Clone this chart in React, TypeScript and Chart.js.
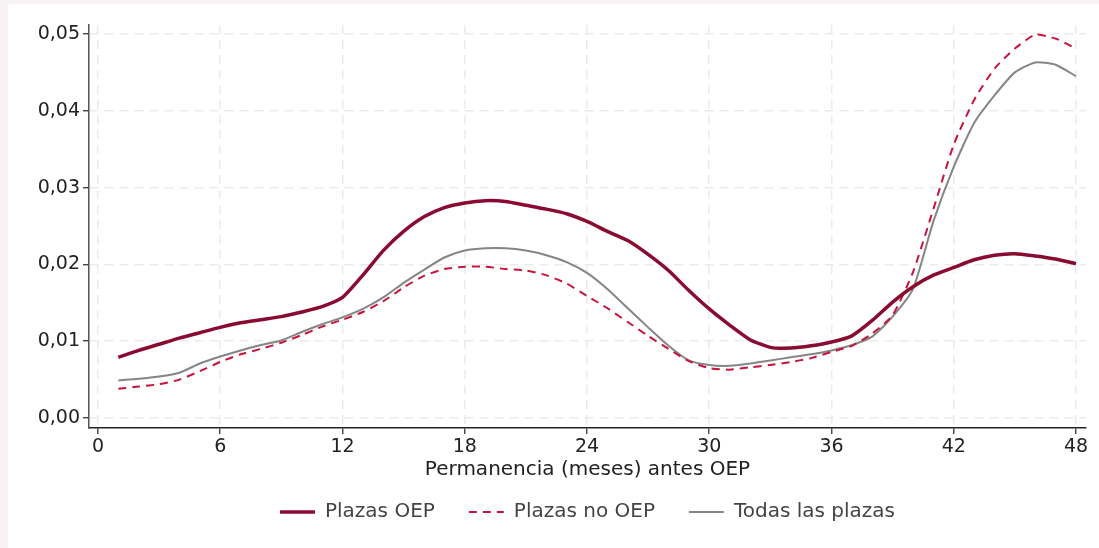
import React, { useEffect, useRef } from 'react';
import { Chart, registerables } from 'chart.js';

Chart.register(...registerables);

const months = [
  1, 2, 3, 4, 5, 6, 7, 8, 9, 10, 11, 12, 13, 14, 15, 16, 17, 18, 19, 20, 21, 22, 23, 24,
  25, 26, 27, 28, 29, 30, 31, 32, 33, 34, 35, 36, 37, 38, 39, 40, 41, 42, 43, 44, 45, 46, 47, 48,
];

const plazasOEP = [
  0.0079, 0.0088, 0.0096, 0.0104, 0.0111, 0.0118, 0.0124, 0.0128, 0.0132, 0.0138, 0.0145, 0.0157,
  0.0186, 0.0218, 0.0243, 0.0262, 0.0274, 0.028, 0.0283, 0.0282, 0.0277, 0.0272, 0.0266, 0.0256,
  0.0243, 0.0231, 0.0213, 0.0192, 0.0166, 0.0142, 0.0121, 0.0102, 0.0092, 0.0091, 0.0094, 0.0099,
  0.0107, 0.0127, 0.0151, 0.0171, 0.0186, 0.0196, 0.0206, 0.0212, 0.0214, 0.0211, 0.0207, 0.0201,
];

const plazasNoOEP = [
  0.0038, 0.0041, 0.0044, 0.005, 0.0061, 0.0073, 0.0083, 0.009, 0.0098, 0.0108, 0.0119, 0.0128,
  0.0138, 0.0152, 0.017, 0.0185, 0.0194, 0.0197, 0.0197, 0.0194, 0.0192, 0.0186, 0.0175, 0.0159,
  0.0143, 0.0125, 0.0107, 0.009, 0.0074, 0.0065, 0.0063, 0.0066, 0.0069, 0.0073, 0.0078, 0.0086,
  0.0094, 0.011, 0.0134, 0.019, 0.0272, 0.0356, 0.0414, 0.0455, 0.0481, 0.0499, 0.0494, 0.0481,
];

const todasPlazas = [
  0.0049, 0.0051, 0.0054, 0.0059, 0.0071, 0.008, 0.0088, 0.0095, 0.0101, 0.0112, 0.0122, 0.0131,
  0.0142, 0.0157, 0.0176, 0.0193, 0.0209, 0.0218, 0.0221, 0.0221, 0.0218, 0.0212, 0.0203, 0.0189,
  0.0168, 0.0143, 0.0118, 0.0094, 0.0075, 0.0069, 0.0068, 0.0071, 0.0075, 0.0079, 0.0083, 0.0088,
  0.0095, 0.0106, 0.0132, 0.0168, 0.0256, 0.0327, 0.0384, 0.042, 0.045, 0.0463, 0.046, 0.0445,
];

const seriesLabels = ['Plazas OEP', 'Plazas no OEP', 'Todas las plazas'];
const xTicks = [0, 6, 12, 18, 24, 30, 36, 42, 48];
const yTicks = [0, 0.01, 0.02, 0.03, 0.04, 0.05];
const yTickLabels = ['0,00', '0,01', '0,02', '0,03', '0,04', '0,05'];
const xTitle = 'Permanencia (meses) antes OEP';

const FONT = "'DejaVu Sans', sans-serif";
const LEGEND_PAD = 34;
const LEGEND_FONT = 20;
const LEGEND_ROW_Y = 508;

const toPoints = (vals: number[]) => months.map((m, i) => ({ x: m, y: vals[i] }));

const legendPlace = {
  id: 'legendPlace',
  afterLayout(chart: any) {
    const lg = chart.legend;
    if (!lg) return;
    const h = LEGEND_PAD * 2 + LEGEND_FONT + 6;
    lg.top = LEGEND_ROW_Y - LEGEND_PAD - LEGEND_FONT / 2;
    lg.height = h;
    lg.bottom = lg.top + h;
  },
};

export default function App() {
  const ref = useRef<HTMLCanvasElement | null>(null);

  useEffect(() => {
    document.body.style.background = '#f7f3f2';
    const canvas = ref.current;
    if (!canvas) return;
    const defaultLabels = Chart.defaults.plugins.legend.labels.generateLabels;
    const chart = new Chart(canvas, {
      type: 'line',
      data: {
        datasets: [
          {
            label: seriesLabels[0],
            data: toPoints(plazasOEP),
            borderColor: '#8a0b31',
            backgroundColor: '#8a0b31',
            borderWidth: 3.5,
            pointRadius: 0,
            tension: 0.2,
          },
          {
            label: seriesLabels[1],
            data: toPoints(plazasNoOEP),
            borderColor: '#c8133d',
            backgroundColor: '#c8133d',
            borderWidth: 2,
            borderDash: [8, 6],
            pointRadius: 0,
            tension: 0.2,
          },
          {
            label: seriesLabels[2],
            data: toPoints(todasPlazas),
            borderColor: '#858585',
            backgroundColor: '#858585',
            borderWidth: 2,
            pointRadius: 0,
            tension: 0.2,
          },
        ],
      },
      options: {
        animation: false,
        responsive: false,
        maintainAspectRatio: false,
        layout: { padding: { top: 21, right: 13, left: 0, bottom: 0 } },
        plugins: {
          tooltip: { enabled: false },
          legend: {
            position: 'bottom',
            fullSize: false,
            maxHeight: 40,
            labels: {
              usePointStyle: true,
              pointStyle: 'line',
              pointStyleWidth: 35,
              padding: LEGEND_PAD,
              color: '#444444',
              font: { family: FONT, size: LEGEND_FONT },
              generateLabels: (c: any) => {
                const items = defaultLabels(c);
                items.forEach((it: any) => {
                  const ds: any = c.data.datasets[it.datasetIndex];
                  it.lineDash = ds.borderDash || [];
                  it.lineWidth = ds.borderWidth;
                  it.strokeStyle = ds.borderColor;
                });
                return items;
              },
            },
          },
        },
        scales: {
          x: {
            type: 'linear',
            min: -0.44,
            max: 48.49,
            afterBuildTicks: (s: any) => {
              s.ticks = xTicks.map((v) => ({ value: v }));
            },
            afterFit: (s: any) => {
              s.height = 80;
            },
            ticks: {
              color: '#222222',
              font: { family: FONT, size: 19 },
              padding: 2,
              maxRotation: 0,
              autoSkip: false,
            },
            grid: {
              color: '#ebebeb',
              lineWidth: 1.5,
              tickColor: '#333333',
              tickLength: 6,
              tickWidth: 1.3,
            },
            border: { color: '#222222', width: 1.5, dash: [9, 6] },
            title: {
              display: true,
              text: xTitle,
              color: '#222222',
              font: { family: FONT, size: 20 },
              padding: { top: 2, bottom: 26 },
            },
          },
          y: {
            type: 'linear',
            min: -0.0013,
            max: 0.05117,
            afterBuildTicks: (s: any) => {
              s.ticks = yTicks.map((v) => ({ value: v }));
            },
            afterFit: (s: any) => {
              s.width = 81;
            },
            ticks: {
              color: '#222222',
              font: { family: FONT, size: 19 },
              padding: 3,
              callback: (v: any) => {
                const i = yTicks.findIndex((t) => Math.abs(t - Number(v)) < 1e-9);
                return i >= 0 ? yTickLabels[i] : '';
              },
            },
            grid: {
              color: '#ebebeb',
              lineWidth: 1.5,
              tickColor: '#333333',
              tickLength: 6,
              tickWidth: 1.3,
            },
            border: { color: '#555555', width: 1.5, dash: [9, 6] },
          },
        },
      },
      plugins: [legendPlace],
    });
    return () => chart.destroy();
  }, []);

  return (
    <div
      style={{
        position: 'absolute',
        left: 8,
        top: 4,
        width: 1091,
        height: 544,
        background: '#ffffff',
      }}
    >
      <canvas ref={ref} width={1091} height={544} style={{ display: 'block' }} />
    </div>
  );
}
